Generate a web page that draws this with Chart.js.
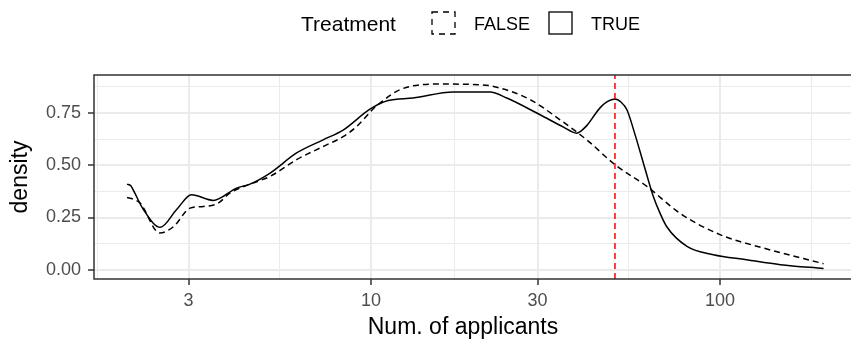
<!DOCTYPE html>
<html>

<head>
  <title>Density of number of applicants by treatment</title>
  <meta charset="UTF-8">
  <script src="https://cdn.jsdelivr.net/npm/chart.js@4.4.0/dist/chart.umd.min.js"></script>
  <style>
    html, body { margin: 0; background: #fff; overflow: hidden; }
  </style>
</head>

<body>
  <!-- the panel runs a few pixels past the right edge of the page -->
  <canvas id="myChart" width="858" height="345"></canvas>
  <script>
    // density estimates (x = number of applicants)
    var falseX = [2.00, 2.08, 2.18, 2.48, 2.72, 3.03, 3.31, 3.65, 3.94, 4.50, 5.14, 6.12, 7.29, 8.34, 9.1, 10.2, 10.6, 12.1, 15.4, 20.5, 23.4, 28.6, 34.8, 41.5, 50.0, 61.7, 76.7, 100, 133, 198];
    var falseY = [0.346, 0.338, 0.319, 0.176, 0.207, 0.295, 0.303, 0.319, 0.367, 0.410, 0.447, 0.527, 0.590, 0.638, 0.686, 0.774, 0.798, 0.862, 0.889, 0.886, 0.870, 0.814, 0.718, 0.622, 0.503, 0.399, 0.271, 0.168, 0.104, 0.029];

    var trueX = [2.00, 2.05, 2.10, 2.23, 2.49, 2.77, 3.06, 3.53, 4.12, 4.50, 5.14, 6.12, 7.29, 8.34, 9.93, 11.2, 13.2, 17.2, 21.9, 24.5, 30.5, 35.6, 38.8, 41.5, 43.4, 45.3, 47.5, 50.0, 52.0, 54.1, 57.2, 60.3, 64.4, 67.3, 70.3, 80.4, 95.7, 119, 149, 198];
    var trueY = [0.410, 0.402, 0.370, 0.287, 0.203, 0.287, 0.359, 0.332, 0.391, 0.410, 0.463, 0.559, 0.622, 0.670, 0.769, 0.810, 0.822, 0.851, 0.851, 0.822, 0.742, 0.683, 0.654, 0.690, 0.734, 0.775, 0.805, 0.818, 0.803, 0.766, 0.642, 0.511, 0.351, 0.271, 0.207, 0.112, 0.072, 0.048, 0.024, 0.006];

    // reference line
    var cutoffX = 50;

    // axis breaks
    var xBreaks = [3, 10, 30, 100];
    var xMinorBreaks = [1.643, 5.477, 17.32, 54.77, 182.6];
    var yBreaks = [0, 0.25, 0.5, 0.75];
    var yMinorBreaks = [0.125, 0.375, 0.625, 0.875];

    var xTitle = "Num. of applicants";
    var yTitle = "density";
    var legendTitle = "Treatment";
    var groupLabels = ["FALSE", "TRUE"];

    var xMin = 1.608, xMax = 248.5;
    var yMin = -0.0444, yMax = 0.9324;

    function toPoints(xs, ys) {
      var pts = [];
      for (let i = 0; i < xs.length; i++) pts.push({ x: xs[i], y: ys[i] });
      return pts;
    }

    function isMajor(list, v) {
      for (let i = 0; i < list.length; i++) {
        if (Math.abs(list[i] - v) < 1e-6) return true;
      }
      return false;
    }

    var fontFamily = '"Liberation Sans", Arial, Helvetica, sans-serif';
    Chart.defaults.font.family = fontFamily;

    // panel border drawn on top of the curves
    var panelBorder = {
      id: 'panelBorder',
      afterDatasetsDraw: function(chart) {
        var a = chart.chartArea, c = chart.ctx;
        c.save();
        c.strokeStyle = '#333333';
        c.lineWidth = 1.5;
        c.strokeRect(a.left, a.top, a.right - a.left, a.bottom - a.top);
        c.restore();
      }
    };

    // legend row at the top and the x axis title
    var treatmentLegend = {
      id: 'treatmentLegend',
      afterDraw: function(chart) {
        var c = chart.ctx;
        c.save();
        c.fillStyle = '#000';
        c.textBaseline = 'alphabetic';
        c.font = '21px ' + fontFamily;
        c.fillText(legendTitle, 301, 31);

        c.strokeStyle = '#000';
        c.lineWidth = 1.3;
        c.setLineDash([6, 5]);
        c.strokeRect(432, 12, 23, 22);
        c.setLineDash([]);
        c.strokeRect(549, 12, 23, 22);

        c.font = '18px ' + fontFamily;
        c.fillText(groupLabels[0], 474, 30);
        c.fillText(groupLabels[1], 591, 30);

        c.font = '23px ' + fontFamily;
        c.textAlign = 'center';
        c.fillText(xTitle, 463, 334);
        c.restore();
      }
    };

    var ctx = document.getElementById("myChart").getContext("2d");
    var chart = new Chart(ctx, {
      type: "line",
      data: {
        datasets: [{
          label: "cutoff",
          data: [{ x: cutoffX, y: yMin }, { x: cutoffX, y: yMax }],
          borderColor: "#FF0000",
          borderWidth: 1.5,
          borderDash: [6, 4],
          pointRadius: 0,
          order: 0
        }, {
          label: groupLabels[1],
          data: toPoints(trueX, trueY),
          borderColor: "#000000",
          borderWidth: 1.5,
          pointRadius: 0,
          cubicInterpolationMode: "monotone",
          order: 1
        }, {
          label: groupLabels[0],
          data: toPoints(falseX, falseY),
          borderColor: "#000000",
          borderWidth: 1.5,
          borderDash: [6, 4],
          pointRadius: 0,
          cubicInterpolationMode: "monotone",
          order: 2
        }]
      },
      options: {
        responsive: false,
        animation: false,
        layout: { padding: { top: 75, right: 0, left: 0, bottom: 0 } },
        plugins: {
          legend: { display: false },
          tooltip: { enabled: false }
        },
        scales: {
          x: {
            type: "logarithmic",
            min: xMin,
            max: xMax,
            afterBuildTicks: function(scale) {
              scale.ticks = xMinorBreaks.concat(xBreaks).sort(function(a, b) { return a - b; })
                .map(function(v) { return { value: v }; });
            },
            afterFit: function(scale) { scale.height = 66; },
            grid: {
              color: "#EBEBEB",
              lineWidth: function(c) { return isMajor(xBreaks, c.tick.value) ? 2 : 1; },
              tickColor: function(c) { return isMajor(xBreaks, c.tick.value) ? "#333333" : "rgba(0,0,0,0)"; },
              tickWidth: 1.5,
              tickLength: 6
            },
            border: { display: false },
            ticks: {
              autoSkip: false,
              maxRotation: 0,
              padding: 5,
              color: "#4D4D4D",
              font: { size: 18 },
              callback: function(v) { return isMajor(xBreaks, v) ? String(v) : ""; }
            },
            title: { display: false }
          },
          y: {
            type: "linear",
            min: yMin,
            max: yMax,
            afterBuildTicks: function(scale) {
              scale.ticks = yBreaks.concat(yMinorBreaks).sort(function(a, b) { return a - b; })
                .map(function(v) { return { value: v }; });
            },
            afterFit: function(scale) { scale.width = 94; },
            grid: {
              color: "#EBEBEB",
              lineWidth: function(c) { return isMajor(yBreaks, c.tick.value) ? 2 : 1; },
              tickColor: function(c) { return isMajor(yBreaks, c.tick.value) ? "#333333" : "rgba(0,0,0,0)"; },
              tickWidth: 1.5,
              tickLength: 6
            },
            border: { display: false },
            ticks: {
              autoSkip: false,
              padding: 7,
              color: "#4D4D4D",
              font: { size: 18 },
              callback: function(v) { return isMajor(yBreaks, v) ? v.toFixed(2) : ""; }
            },
            title: {
              display: true,
              text: yTitle,
              color: "#000",
              font: { size: 23 },
              padding: { top: 7, bottom: 0 }
            }
          }
        }
      },
      plugins: [panelBorder, treatmentLegend]
    });
  </script>
</body>

</html>
